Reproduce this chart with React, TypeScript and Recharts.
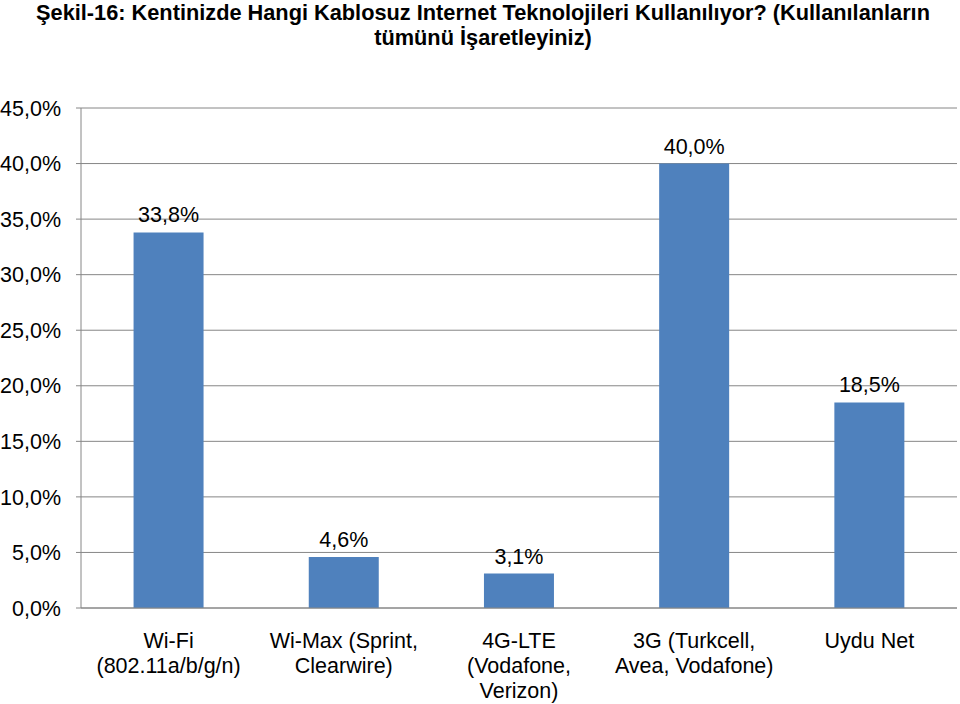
import { BarChart, Bar, XAxis, YAxis, CartesianGrid, LabelList } from "recharts";

const categories = [
  "Wi-Fi\n(802.11a/b/g/n)",
  "Wi-Max (Sprint,\nClearwire)",
  "4G-LTE\n(Vodafone,\nVerizon)",
  "3G (Turkcell,\nAvea, Vodafone)",
  "Uydu Net",
];
const values = [33.8, 4.6, 3.1, 40.0, 18.5];
const yTicks = [0, 5, 10, 15, 20, 25, 30, 35, 40, 45];
const boundaryTicks = [0, 1, 2, 3, 4, 5];

const data = categories.map((name, i) => ({ name, value: values[i] }));

const GRAY = "#868686";
const FONT = '"Liberation Sans", Arial, sans-serif';
const FS = 21.5;

const pct = (v: number) => v.toFixed(1).replace(".", ",") + "%";

function CategoryTick({ x, y, payload }: any) {
  const lines = String(payload.value).split("\n");
  return (
    <text x={x} y={y} textAnchor="middle" fontSize={FS} fill="#000" fontFamily={FONT}>
      {lines.map((line, i) => (
        <tspan key={i} x={x} dy={i === 0 ? 40 : 25}>
          {line}
        </tspan>
      ))}
    </text>
  );
}

export default function App() {
  return (
    <div
      style={{
        position: "absolute",
        left: 0,
        top: 0,
        width: 960,
        height: 704,
        background: "#fff",
        fontFamily: FONT,
      }}
    >
      <div
        style={{
          position: "absolute",
          left: 0,
          top: 0,
          width: 966,
          textAlign: "center",
          fontWeight: "bold",
          fontSize: 21.75,
          lineHeight: "25px",
          color: "#000",
          whiteSpace: "nowrap",
        }}
      >
        Şekil-16: Kentinizde Hangi Kablosuz Internet Teknolojileri Kullanılıyor? (Kullanılanların
        <br />
        tümünü İşaretleyiniz)
      </div>
      <BarChart
        width={960}
        height={704}
        data={data}
        margin={{ top: 108, right: 3, bottom: 0, left: 0 }}
        barCategoryGap="30%"
      >
        <CartesianGrid horizontal vertical={false} stroke={GRAY} />
        <XAxis
          xAxisId="b"
          type="number"
          domain={[0, 5]}
          ticks={boundaryTicks}
          tick={false}
          tickSize={6}
          tickLine={{ stroke: GRAY }}
          axisLine={false}
          height={0}
        />
        <XAxis
          dataKey="name"
          interval={0}
          height={96}
          tickLine={false}
          tickSize={0}
          tickMargin={0}
          axisLine={{ stroke: GRAY }}
          tick={<CategoryTick />}
        />
        <YAxis
          width={81}
          domain={[0, 45]}
          ticks={yTicks}
          tickFormatter={pct}
          tickSize={5}
          tickMargin={15}
          tickLine={{ stroke: GRAY }}
          axisLine={{ stroke: GRAY }}
          tick={{ fontSize: FS, fill: "#000", fontFamily: FONT }}
        />
        <Bar dataKey="value" fill="#4F81BD" isAnimationActive={false}>
          <LabelList
            dataKey="value"
            position="top"
            offset={10}
            formatter={(v: any) => pct(Number(v))}
            style={{ fontSize: FS, fill: "#000", fontFamily: FONT }}
          />
        </Bar>
      </BarChart>
    </div>
  );
}
